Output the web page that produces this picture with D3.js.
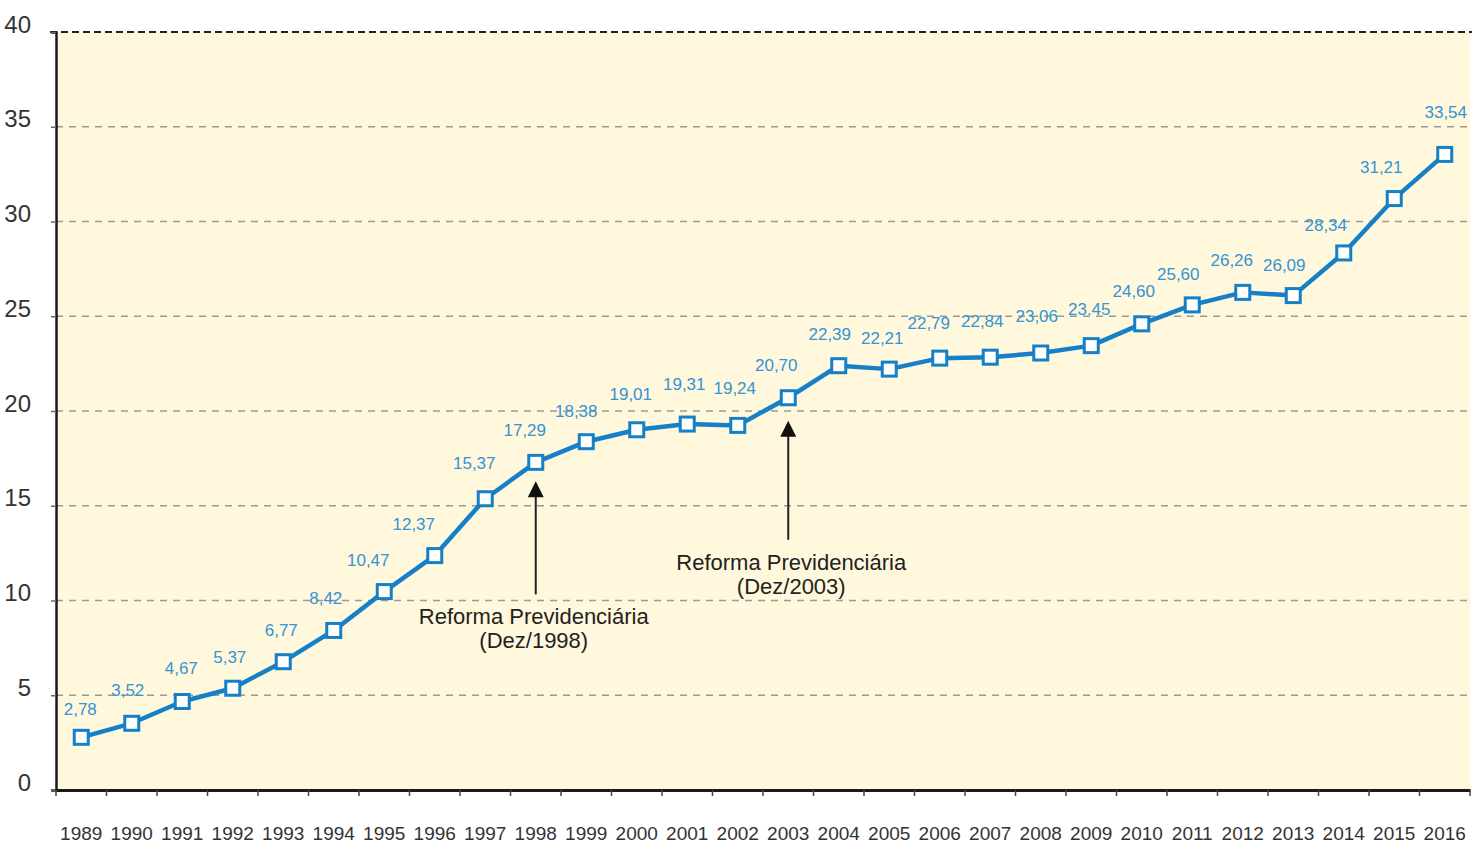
<!DOCTYPE html>
<html><head><meta charset="utf-8">
<script src="https://cdn.jsdelivr.net/npm/d3@7"></script>
<style>
html,body{margin:0;padding:0;background:#fff;}
svg{display:block;}
</style></head>
<body>
<svg id="c" width="1472" height="845"></svg>
<script>
const years = ["1989","1990","1991","1992","1993","1994","1995","1996","1997","1998","1999","2000","2001","2002","2003","2004","2005","2006","2007","2008","2009","2010","2011","2012","2013","2014","2015","2016"];
const values = [2.78,3.52,4.67,5.37,6.77,8.42,10.47,12.37,15.37,17.29,18.38,19.01,19.31,19.24,20.70,22.39,22.21,22.79,22.84,23.06,23.45,24.60,25.60,26.26,26.09,28.34,31.21,33.54];
const valueLabels = ["2,78","3,52","4,67","5,37","6,77","8,42","10,47","12,37","15,37","17,29","18,38","19,01","19,31","19,24","20,70","22,39","22,21","22,79","22,84","23,06","23.45","24,60","25,60","26,26","26,09","28,34","31,21","33,54"];
const yTicks = [0,5,10,15,20,25,30,35,40];
const annotations = [
  {year:"1998", lines:["Reforma Previdenciária","(Dez/1998)"]},
  {year:"2003", lines:["Reforma Previdenciária","(Dez/2003)"]}
];
// label nudges (pixels, relative to point): [dx, dy]
const labelNudge = [[-1,-28],[-4,-33],[-1,-33],[-3,-31],[-2,-32],[-8,-32],[-16,-32],[-21,-32],[-11,-36],[-11,-32],[-10,-31],[-6,-36],[-3,-40],[-3,-37],[-12,-33],[-9,-32],[-7,-31],[-11,-35],[-8,-36],[-4,-37],[-2,-37],[-8,-33],[-14,-31],[-11,-32],[-9,-31],[-18,-28],[-13,-32],[1,-42]];

const svg = d3.select("#c");
const mL = 56, mR = 1470, mT = 32, mB = 790;
const x = d3.scaleBand().domain(years).range([mL, mR]).padding(0);
const y = d3.scaleLinear().domain([0,40]).range([mB, mT]);
const cx = d => x(d) + x.bandwidth()/2;

// background
svg.append("rect").attr("x", mL).attr("y", mT).attr("width", mR-mL).attr("height", mB-mT).attr("fill", "#fff8dc");

// gridlines
svg.append("g").selectAll("line").data(yTicks.filter(t => t>0 && t<40)).join("line")
  .attr("x1", mL).attr("x2", mR+2).attr("y1", d=>y(d)).attr("y2", d=>y(d))
  .attr("stroke", "#9a9a9a").attr("stroke-width", 1.5).attr("stroke-dasharray", "7,6");
svg.append("line").attr("x1", mL-6).attr("x2", mR+2).attr("y1", y(40)).attr("y2", y(40))
  .attr("stroke", "#222").attr("stroke-width", 2).attr("stroke-dasharray", "7,4");

// y axis
const yAxis = svg.append("g").attr("transform", `translate(${mL},0)`)
  .call(d3.axisLeft(y).tickValues(yTicks).tickSize(5).tickPadding(20).tickFormat(d3.format("d")));
yAxis.select(".domain").attr("stroke", "#1a1a1a").attr("stroke-width", 2.5);
yAxis.selectAll(".tick line").attr("stroke", "#666").attr("stroke-width", 1.5);
yAxis.selectAll("text").attr("font-family", "'Liberation Sans Narrow','Arial Narrow',Arial,sans-serif")
  .attr("font-size", 24).attr("fill", "#333").attr("dy", "0");

// x axis
const xAxis = svg.append("g").attr("transform", `translate(0,${mB})`)
  .call(d3.axisBottom(x).tickSize(0).tickPadding(37));
xAxis.select(".domain").attr("stroke", "#1a1a1a").attr("stroke-width", 3);
xAxis.selectAll("text").attr("font-family", "'Liberation Sans Narrow','Arial Narrow',Arial,sans-serif")
  .attr("font-size", 19).attr("fill", "#333");
// boundary ticks
const bounds = years.map(d => x(d)).concat([mR]);
svg.append("g").selectAll("line").data(bounds).join("line")
  .attr("x1", d=>d).attr("x2", d=>d).attr("y1", mB).attr("y2", mB+6)
  .attr("stroke", "#444").attr("stroke-width", 1.5);

// line
const data = years.map((yr,i) => ({yr, v: values[i], lab: valueLabels[i], n: labelNudge[i]}));
svg.append("path").datum(data)
  .attr("d", d3.line().x(d=>cx(d.yr)).y(d=>y(d.v)))
  .attr("fill", "none").attr("stroke", "#1580c8").attr("stroke-width", 4.5).attr("stroke-linejoin", "round");

// markers
svg.append("g").selectAll("rect").data(data).join("rect")
  .attr("x", d=>cx(d.yr)-7).attr("y", d=>y(d.v)-7).attr("width", 14).attr("height", 14)
  .attr("fill", "#ffffff").attr("stroke", "#1580c8").attr("stroke-width", 3);

// value labels
svg.append("g").selectAll("text").data(data).join("text")
  .attr("x", d=>cx(d.yr)+d.n[0]).attr("y", d=>y(d.v)+d.n[1]).attr("dy", "0.35em")
  .attr("text-anchor", "middle")
  .attr("font-family", "'Liberation Sans Narrow','Arial Narrow',Arial,sans-serif")
  .attr("font-size", 17).attr("fill", "#3394d6").text(d=>d.lab);

// annotations
const annLayout = {"1998": {tip:19, tail:132, tx:-2, ty:162}, "2003": {tip:23, tail:142, tx:3, ty:172}};
annotations.forEach(a => {
  const i = years.indexOf(a.year);
  const px = cx(a.year), py = y(values[i]);
  const L = annLayout[a.year];
  svg.append("line").attr("x1", px).attr("x2", px).attr("y1", py+L.tail).attr("y2", py+L.tip+8)
    .attr("stroke", "#222").attr("stroke-width", 2);
  svg.append("path").attr("d", `M${px},${py+L.tip}L${px-8},${py+L.tip+16}L${px+8},${py+L.tip+16}Z`).attr("fill","#111");
  const t = svg.append("text").attr("text-anchor","middle")
    .attr("font-family", "Arial, 'Liberation Sans', sans-serif").attr("font-size", 22).attr("fill", "#222");
  a.lines.forEach((ln, k) => t.append("tspan").attr("x", px+L.tx).attr("y", py+L.ty + k*24).text(ln));
});
</script>
</body></html>
